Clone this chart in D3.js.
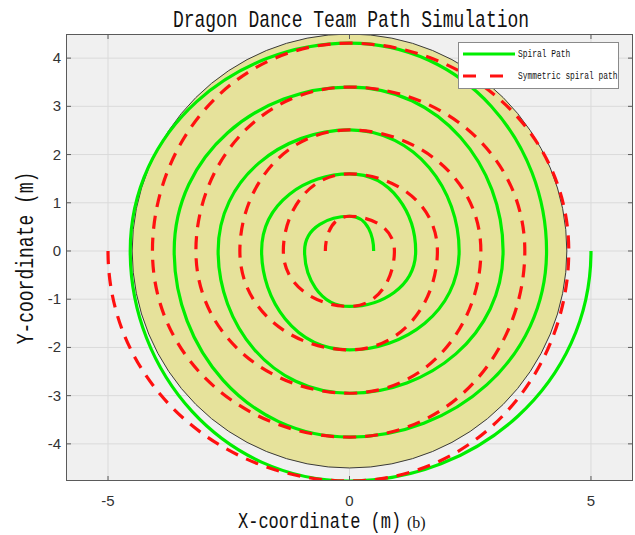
<!DOCTYPE html>
<html>
<head>
<meta charset="utf-8">
<script src="https://cdn.jsdelivr.net/npm/d3@7"></script>
<style>
  html, body { margin: 0; padding: 0; background: #ffffff; }
  svg { display: block; }
</style>
</head>
<body>
<svg id="chart" width="635" height="535"></svg>
<script>
// ---------------- data ----------------
const title = "Dragon Dance Team Path Simulation";
const xLabel = "X-coordinate (m)";
const xLabelSuffix = "(b)";
const yLabel = "Y-coordinate (m)";
const xTicks = [-5, 0, 5];
const yTicks = [-4, -3, -2, -1, 0, 1, 2, 3, 4];
const xDomain = [-5.87, 5.87];
const yDomain = [-4.77, 4.50];
const circleRadius = 4.5;
// spiral samples every quarter turn, clockwise from the +x axis (degrees).
// The first and last entries are only tangent guides (not drawn).
const spiralAngleDeg = [-90, 0, 90, 180, 270, 360, 450, 540, 630, 720, 810, 900, 990, 1080, 1170, 1260, 1350, 1440, 1530, 1620, 1710, 1800, 1890];
const spiralRadius   = [5.23, 5.00, 4.77, 4.54, 4.31, 4.08, 3.86, 3.63, 3.40, 3.18, 2.95, 2.72, 2.51, 2.27, 2.05, 1.82, 1.60, 1.37, 1.15, 0.93, 0.72, 0.50, 0.28];
const seriesNames = ["Spiral Path", "Symmetric spiral path"];
const seriesColors = ["#00ee00", "#ff1010"];

// ---------------- layout ----------------
const svg = d3.select("#chart");
const plot = { left: 66, right: 633, top: 34, bottom: 481 };
const x = d3.scaleLinear().domain(xDomain).range([plot.left, plot.right]);
const y = d3.scaleLinear().domain(yDomain).range([plot.bottom, plot.top]);

// axes background
svg.append("rect")
  .attr("x", plot.left).attr("y", plot.top)
  .attr("width", plot.right - plot.left).attr("height", plot.bottom - plot.top)
  .attr("fill", "#f0f0f0");

// grid
const grid = svg.append("g").attr("stroke", "#dadada").attr("stroke-width", 1);
grid.selectAll("line.gx").data(xTicks).join("line")
  .attr("x1", d => x(d)).attr("x2", d => x(d))
  .attr("y1", plot.top).attr("y2", plot.bottom);
grid.selectAll("line.gy").data(yTicks).join("line")
  .attr("y1", d => y(d)).attr("y2", d => y(d))
  .attr("x1", plot.left).attr("x2", plot.right);

// clip
svg.append("clipPath").attr("id", "clip").append("rect")
  .attr("x", plot.left).attr("y", plot.top)
  .attr("width", plot.right - plot.left).attr("height", plot.bottom - plot.top);
const g = svg.append("g").attr("clip-path", "url(#clip)");

// circle
g.append("ellipse")
  .attr("cx", x(0)).attr("cy", y(0))
  .attr("rx", x(circleRadius) - x(0)).attr("ry", y(0) - y(circleRadius))
  .attr("fill", "#e6e29b").attr("stroke", "#3a3a3a").attr("stroke-width", 1);

// spirals
const rad = Math.PI / 180;
const greenPts = spiralAngleDeg.map((a, i) => [spiralRadius[i] * Math.cos(-a * rad), spiralRadius[i] * Math.sin(-a * rad)]);
const redPts = greenPts.map(p => [-p[0], p[1]]); // mirror about the y-axis
const line = d3.line().x(d => x(d[0])).y(d => y(d[1])).curve(d3.curveCardinalOpen.tension(-0.66));

g.append("path").attr("d", line(greenPts))
  .attr("fill", "none").attr("stroke", seriesColors[0]).attr("stroke-width", 3.2);
g.append("path").attr("d", line(redPts))
  .attr("fill", "none").attr("stroke", seriesColors[1]).attr("stroke-width", 3.2)
  .attr("stroke-dasharray", "13,9");

// box
svg.append("rect")
  .attr("x", plot.left + 0.5).attr("y", plot.top + 0.5)
  .attr("width", plot.right - plot.left - 1).attr("height", plot.bottom - plot.top - 1)
  .attr("fill", "none").attr("stroke", "#5a5a5a").attr("stroke-width", 1);

// ticks (inward, all four sides)
const tk = svg.append("g").attr("stroke", "#5a5a5a").attr("stroke-width", 1);
xTicks.forEach(t => {
  tk.append("line").attr("x1", x(t)).attr("x2", x(t)).attr("y1", plot.bottom).attr("y2", plot.bottom - 5);
  tk.append("line").attr("x1", x(t)).attr("x2", x(t)).attr("y1", plot.top).attr("y2", plot.top + 5);
});
yTicks.forEach(t => {
  tk.append("line").attr("y1", y(t)).attr("y2", y(t)).attr("x1", plot.left).attr("x2", plot.left + 5);
  tk.append("line").attr("y1", y(t)).attr("y2", y(t)).attr("x1", plot.right).attr("x2", plot.right - 5);
});

// tick labels
const tickFont = "'Liberation Sans', Arial, sans-serif";
svg.append("g").selectAll("text").data(xTicks).join("text")
  .attr("x", d => x(d)).attr("y", 506)
  .attr("text-anchor", "middle")
  .attr("font-family", tickFont).attr("font-size", 15).attr("fill", "#333")
  .text(d => d);
svg.append("g").selectAll("text").data(yTicks).join("text")
  .attr("x", 61).attr("y", d => y(d) + 5)
  .attr("text-anchor", "end")
  .attr("font-family", tickFont).attr("font-size", 15).attr("fill", "#333")
  .text(d => d);

// titles
const monoFont = "'Liberation Mono', 'DejaVu Sans Mono', monospace";
svg.append("text")
  .attr("transform", "translate(351,27) scale(1,1.3)")
  .attr("text-anchor", "middle")
  .attr("font-family", monoFont).attr("font-size", 18).attr("fill", "#111")
  .text(title);
svg.append("text")
  .attr("transform", "translate(238,528) scale(1,1.3)")
  .attr("text-anchor", "start")
  .attr("font-family", monoFont).attr("font-size", 17).attr("fill", "#111")
  .text(xLabel);
svg.append("text")
  .attr("x", 407).attr("y", 528)
  .attr("font-family", "'Liberation Serif', 'Times New Roman', serif").attr("font-size", 16).attr("fill", "#111")
  .text(xLabelSuffix);
svg.append("text")
  .attr("transform", "translate(33,258) rotate(-90) scale(1,1.3)")
  .attr("text-anchor", "middle")
  .attr("font-family", monoFont).attr("font-size", 18).attr("fill", "#111")
  .text(yLabel);

// legend
const lg = svg.append("g");
lg.append("rect").attr("x", 458.5).attr("y", 42.5).attr("width", 160).attr("height", 46)
  .attr("fill", "#ffffff").attr("stroke", "#8a8a8a").attr("stroke-width", 1);
lg.append("line").attr("x1", 463).attr("x2", 515).attr("y1", 54).attr("y2", 54)
  .attr("stroke", seriesColors[0]).attr("stroke-width", 3.2);
lg.append("line").attr("x1", 463).attr("x2", 505).attr("y1", 76).attr("y2", 76)
  .attr("stroke", seriesColors[1]).attr("stroke-width", 3.2).attr("stroke-dasharray", "13,14");
seriesNames.forEach((n, i) => {
  lg.append("text")
    .attr("transform", `translate(518,${[57, 79][i]}) scale(1,1.3)`)
    .attr("font-family", monoFont).attr("font-size", 7.9).attr("fill", "#111")
    .text(n);
});
</script>
</body>
</html>
